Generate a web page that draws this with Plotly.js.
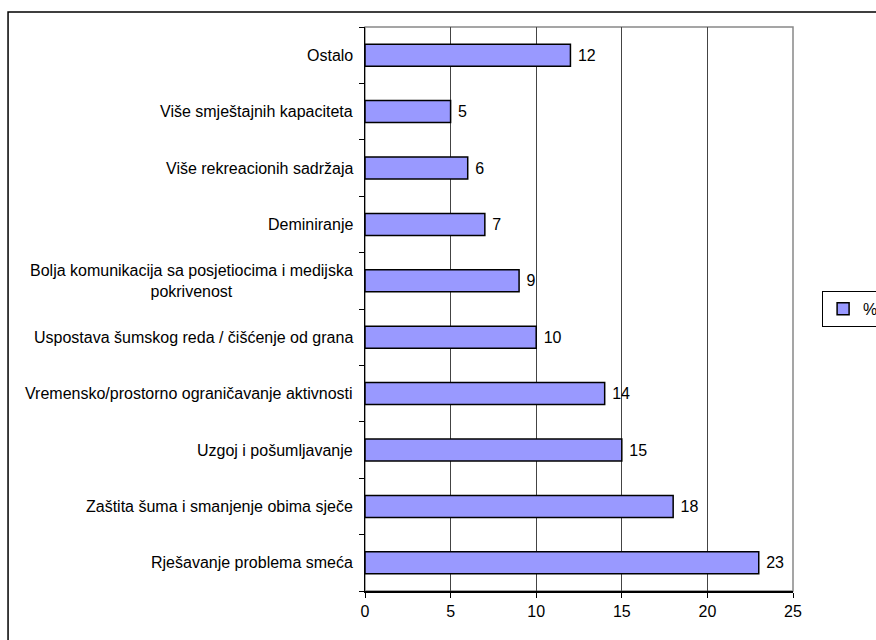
<!DOCTYPE html>
<html>
<head>
<meta charset="utf-8">
<script src="https://cdn.plot.ly/plotly-3.0.1.min.js"></script>
<style>
html,body{margin:0;padding:0;background:#fff;}
#chart{width:876px;height:640px;}
</style>
</head>
<body>
<div id="chart"></div>
<script>
// Categories listed bottom to top
var categories = [
  "Rješavanje problema smeća",
  "Zaštita šuma i smanjenje obima sječe",
  "Uzgoj i pošumljavanje",
  "Vremensko/prostorno ograničavanje aktivnosti",
  "Uspostava šumskog reda / čišćenje od grana",
  "Bolja komunikacija sa posjetiocima i medijska<br>pokrivenost",
  "Deminiranje",
  "Više rekreacionih sadržaja",
  "Više smještajnih kapaciteta",
  "Ostalo"
];
var values = [23, 18, 15, 14, 10, 9, 7, 6, 5, 12];
var seriesName = "%";
var xTicks = [0, 5, 10, 15, 20, 25];

var FONT = "Liberation Sans, Arial, sans-serif";
var FS = 16;

var trace = {
  type: "bar",
  orientation: "h",
  name: seriesName,
  x: values,
  y: categories,
  text: values.map(function(v){ return " " + v; }),
  textposition: "outside",
  cliponaxis: false,
  textfont: {family: FONT, size: FS, color: "#000"},
  marker: {color: "#9999FF", line: {color: "#000", width: 1.5}},
  showlegend: true,
  hoverinfo: "x+y"
};

var annotations = categories.map(function(c){
  return {
    xref: "paper", yref: "y",
    x: 0, y: c,
    xanchor: "right", yanchor: "middle",
    xshift: -11,
    align: "center",
    text: c,
    showarrow: false,
    borderpad: 0,
    font: {family: FONT, size: FS, color: "#000"}
  };
});

var layout = {
  width: 876, height: 640,
  margin: {l: 365, r: 83, t: 27, b: 49, pad: 0, autoexpand: false},
  paper_bgcolor: "#fff",
  plot_bgcolor: "#fff",
  font: {family: FONT, size: FS, color: "#000"},
  bargap: 0.61,
  xaxis: {
    range: [0, 25],
    tickvals: xTicks,
    ticktext: xTicks.map(String),
    showgrid: true,
    gridcolor: "#444",
    gridwidth: 1,
    zeroline: false,
    showline: true,
    linecolor: "#000",
    linewidth: 1.5,
    ticks: "outside",
    ticklen: 5,
    tickcolor: "#000",
    tickfont: {family: FONT, size: FS, color: "#000"},
    automargin: false,
    fixedrange: true
  },
  yaxis: {
    type: "category",
    categoryorder: "array",
    categoryarray: categories,
    showticklabels: false,
    tickson: "boundaries",
    ticks: "outside",
    ticklen: 5,
    tickcolor: "#000",
    showgrid: false,
    zeroline: false,
    showline: true,
    linecolor: "#000",
    linewidth: 1.5,
    automargin: false,
    fixedrange: true
  },
  legend: {
    x: 1.068, y: 0.532,
    xanchor: "left", yanchor: "top",
    bgcolor: "#fff",
    bordercolor: "#000",
    borderwidth: 1,
    font: {family: FONT, size: FS, color: "#000"}
  },
  annotations: annotations,
  shapes: [
    {type: "rect", xref: "paper", yref: "paper", x0: 0, x1: 1, y0: 0, y1: 1,
     line: {color: "#888", width: 1.5}, layer: "below"},
    {type: "rect", xref: "paper", yref: "paper", x0: -0.834, x1: 1.5, y0: -0.2, y1: 1.0266,
     line: {color: "#000", width: 1.5}, layer: "below"}
  ]
};

Plotly.newPlot("chart", [trace], layout, {displayModeBar: false, staticPlot: true});
</script>
</body>
</html>
